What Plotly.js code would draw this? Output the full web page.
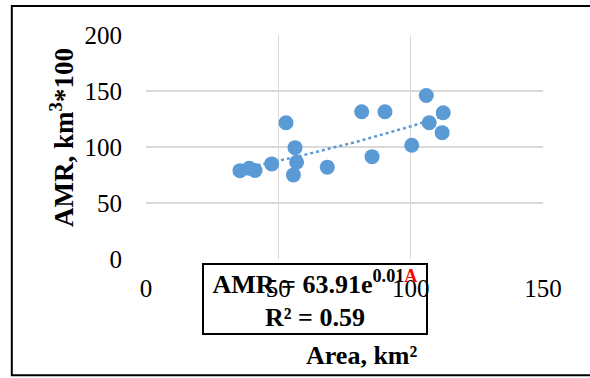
<!DOCTYPE html>
<html>
<head>
<meta charset="utf-8">
<script src="https://cdn.plot.ly/plotly-3.0.1.min.js"></script>
<style>
html,body{margin:0;padding:0;background:#fff;}
#chart{width:590px;height:378px;}
</style>
</head>
<body>
<div id="chart"></div>
<script>
// Data
const areaKm2 = [35.5, 39.0, 41.2, 47.5, 52.9, 55.7, 56.3, 56.9, 68.5, 81.5, 85.4, 90.3, 100.4, 105.9, 107.0, 111.9, 112.3];
const amrValues = [78.9, 81.0, 79.0, 84.9, 121.7, 75.1, 99.4, 86.4, 82.0, 131.5, 91.4, 131.5, 101.6, 146.0, 121.7, 112.8, 130.6];
const xTickVals = [0, 50, 100, 150];
const yTickVals = [0, 50, 100, 150, 200];

// Exponential least-squares fit (as Excel's exponential trendline)
const n = areaKm2.length;
let sx = 0, sy = 0, sxx = 0, sxy = 0;
for (let i = 0; i < n; i++) {
  const lx = areaKm2[i], ly = Math.log(amrValues[i]);
  sx += lx; sy += ly; sxx += lx * lx; sxy += lx * ly;
}
const b = (n * sxy - sx * sy) / (n * sxx - sx * sx);
const a = Math.exp((sy - b * sx) / n);
const xMin = Math.min(...areaKm2), xMax = Math.max(...areaKm2);
const trendX = [], trendY = [];
for (let k = 0; k <= 60; k++) {
  const xv = xMin + (xMax - xMin) * k / 60;
  trendX.push(xv);
  trendY.push(a * Math.exp(b * xv));
}

const blue = '#5b9bd5';
const serif = 'Liberation Serif';

const traces = [
  {
    x: trendX, y: trendY, type: 'scatter', mode: 'lines',
    line: {color: blue, width: 2.5, dash: 'dot'},
    hoverinfo: 'skip', showlegend: false
  },
  {
    x: areaKm2, y: amrValues, type: 'scatter', mode: 'markers',
    marker: {color: blue, size: 15},
    showlegend: false
  }
];

const layout = {
  width: 590, height: 378,
  margin: {l: 146, r: 47, t: 34.5, b: 118.7},
  paper_bgcolor: '#fff', plot_bgcolor: '#fff',
  font: {family: serif, color: '#000', size: 25},
  xaxis: {
    range: [0, 150], tickvals: xTickVals, ticktext: xTickVals.map(String),
    showgrid: true, gridcolor: '#d9d9d9', gridwidth: 1.5,
    zeroline: false, showline: false, ticks: '',
    ticklabelstandoff: 12,
    tickfont: {family: serif, size: 25, color: '#000'}
  },
  yaxis: {
    range: [0, 200], tickvals: yTickVals, ticktext: yTickVals.map(String),
    showgrid: true, gridcolor: '#d9d9d9', gridwidth: 1.5,
    zeroline: false, showline: false, ticks: '',
    ticklabelstandoff: 23,
    tickfont: {family: serif, size: 25, color: '#000'}
  },
  shapes: [
    {type: 'rect', xref: 'paper', yref: 'paper',
     x0: -0.338, x1: 1.2, y0: -0.519, y1: 1.129,
     line: {color: '#000', width: 2}, fillcolor: 'rgba(0,0,0,0)', layer: 'above'}
  ],
  annotations: [
    {
      xref: 'paper', yref: 'paper', x: -0.213, y: 0.542, xanchor: 'center', yanchor: 'middle',
      text: '<b>AMR, km<sup>3</sup>*100</b>', showarrow: false, textangle: -90,
      font: {family: serif, size: 27, color: '#000'}
    },
    {
      xref: 'paper', yref: 'paper', x: 0.544, y: -0.43, xanchor: 'center', yanchor: 'middle',
      text: '<b>Area, km²</b>', showarrow: false,
      font: {family: serif, size: 26, color: '#000'}
    },
    {
      xref: 'paper', yref: 'paper', x: 0.425, y: -0.179, xanchor: 'center', yanchor: 'middle',
      text: '<b>AMR = 63.91e<sup>0.01<span style="color:#ff0000">A</span></sup></b><br><b>R² = 0.59</b>',
      showarrow: false, align: 'center',
      width: 220, height: 66, borderpad: 1,
      bordercolor: '#000', borderwidth: 2, bgcolor: 'rgba(0,0,0,0)',
      font: {family: serif, size: 26, color: '#000'}
    }
  ]
};

Plotly.newPlot('chart', traces, layout, {displayModeBar: false, staticPlot: true});
</script>
</body>
</html>
